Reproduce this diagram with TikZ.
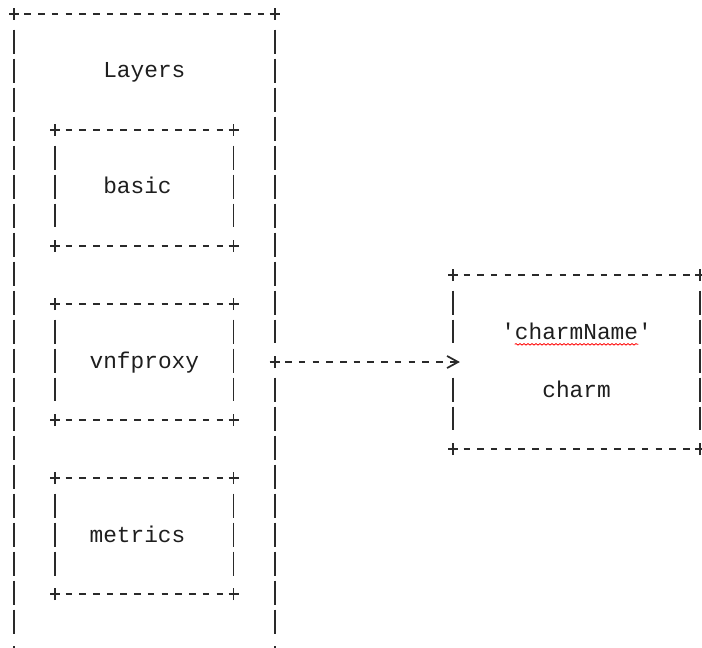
\documentclass[tikz,border=0pt]{standalone}
\usepackage{fontspec}
\setmonofont{Liberation Mono}
\usepackage{xcolor}
\usepackage{tikz}
\usetikzlibrary{arrows.meta}
\usetikzlibrary{decorations.pathmorphing}

\definecolor{ink}{HTML}{1E1E1E}
\definecolor{rule}{HTML}{2A2A2A}

% one character cell
\newcommand{\colw}{10.29pt}
\newcommand{\rowh}{21.75pt}

\tikzset{
  box/.style 2 args={rectangle, inner sep=0pt, outer sep=0pt,
    minimum width=#1*\colw, minimum height=#2*\rowh},
  hline/.style={draw=rule, line width=1.3pt,
    dash pattern=on 4.9pt off 5.39pt, shorten <=7.84pt, shorten >=7.84pt},
  vbar/.style={draw=rule, line width=1.3pt,
    dash pattern=on 18pt off 3.75pt, shorten <=11.63pt, shorten >=13.88pt},
  word/.style={font=\ttfamily\fontsize{17.1pt}{20pt}\selectfont, text=ink,
    inner sep=0pt, anchor=base, yshift=-4.5pt},
  corner/.pic={\draw[rule, line width=1.3pt] (-3.75pt,0) -- (3.75pt,0) (0,-4.5pt) -- (0,4.5pt);}
}

\begin{document}
\begin{tikzpicture}[x=10.29pt, y=-21.75pt]

        \path[use as bounding box, clip] (-1.0204,-0.4828) rectangle (50.146,21.862);

        % frames, in character cells
        \node[box={19}{22}] (layers) at (9.5,11) {};
        \node[box={13}{4}] (basic) at (9.5,6) {};
        \node[box={13}{4}] (vnfproxy) at (9.5,12) {};
        \node[box={13}{4}] (metrics) at (9.5,18) {};
        \node[box={18}{6}] (charm) at (41,12) {};

        \node[word] (layers-txt) at (9.5,2) {Layers};
        \node[word] (basic-txt) at (9,6) {basic};
        \node[word] (vnfproxy-txt) at (9.5,12) {vnfproxy};
        \node[word] (metrics-txt) at (9,18) {metrics};
        \node[word] (charmname-txt) at (41,11) {'charmName'};
        \node[word] (charm-txt) at (41,13) {charm};

        \coordinate (tail) at (layers.east |- charm.west);

        \foreach \b in {layers,basic,vnfproxy,metrics,charm}
        {
          \draw[hline] (\b.north west) -- (\b.north east);
          \draw[hline] (\b.south west) -- (\b.south east);
          \foreach \c in {north west,north east,south west,south east}
            \pic at (\b.\c) {corner};
        }
        \foreach \b in {basic,vnfproxy,metrics}
        {
          \draw[vbar] (\b.north west) -- (\b.south west);
          \draw[vbar] (\b.north east) -- (\b.south east);
        }
        \draw[vbar] (layers.north west) -- (layers.south west);
        \draw[vbar] (layers.north east) -- (tail);
        \draw[vbar] (tail) -- (layers.south east);
        \draw[vbar] (charm.north west) -- (charm.west);
        \draw[vbar] (charm.west) -- (charm.south west);
        \draw[vbar] (charm.north east) -- (charm.south east);

        % link
        \pic at (tail) {corner};
        \draw[hline, shorten >=-5.15pt, -{Straight Barb[length=8.25pt, width=9pt]}]
          (tail) -- (charm.west);

        % spelling mark
        \draw[red, line width=0.6pt, decorate,
          decoration={snake, amplitude=0.55pt, segment length=3pt}]
          ([xshift=\colw, yshift=-4pt]charmname-txt.base west) --
          ([xshift=-\colw, yshift=-4pt]charmname-txt.base east);
      \end{tikzpicture}
\end{document}
